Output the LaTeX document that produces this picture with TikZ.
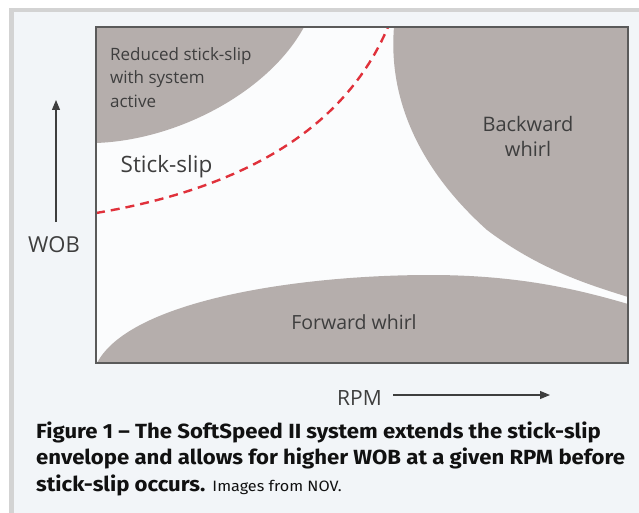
\documentclass[tikz,border=0pt]{standalone}
\usepackage{fontspec}
\setmainfont{Open Sans}
\newfontfamily\capfont{Fira Sans}
\usetikzlibrary{arrows.meta}
\definecolor{region}{HTML}{B5AEAC}
\definecolor{framec}{HTML}{D3D3D3}
\definecolor{bgc}{HTML}{F2F5F8}
\definecolor{plotbg}{HTML}{FBFCFD}
\definecolor{borderc}{HTML}{5A5A5A}
\definecolor{labelc}{HTML}{3E3E3E}
\definecolor{dashc}{HTML}{E0313B}
\definecolor{capc}{HTML}{111111}
\tikzset{
  regionfill/.style={fill=region},
  plotframe/.style={draw=borderc, line width=1.5pt},
  lbl/.style={text=labelc, inner sep=0pt, align=center},
  axisarrow/.style={draw=labelc, line width=1.1pt, -{Triangle[length=10pt,width=8pt]}},
  envelope/.style={draw=dashc, line width=2.4pt, dash pattern=on 9pt off 6pt},
  captext/.style={text=capc, inner sep=0pt, anchor=base west, font=\capfont\bfseries\fontsize{20.5}{24}\selectfont}
}
\newcommand{\capline}[1]{\scalebox{1.08}[1]{#1}}
\begin{document}
\begin{tikzpicture}[x=1pt,y=-1pt]
\useasboundingbox (0,0) rectangle (639,513);
\fill[white] (0,0) rectangle (639,513);
\fill[bgc] (14,12) rectangle (639,513);
\fill[framec] (9,8) rectangle (639,12);
\fill[framec] (9,8) rectangle (14,513);
\fill[plotbg] (96,27) rectangle (628,363);
% reduced stick-slip region
\fill[regionfill] (96,27) -- (304,27) .. controls (270,90) and (180,140) .. (96,143) -- cycle;
% backward whirl region
\fill[regionfill] (394,27) .. controls (388,100) and (420,170) .. (487,230)
   .. controls (540,270) and (590,285) .. (628,297) -- (628,27) -- cycle;
% forward whirl region
\fill[regionfill] (97,363) .. controls (130,300) and (300,275) .. (430,275)
   .. controls (520,275) and (580,290) .. (628,304) -- (628,363) -- cycle;
% envelope
\coordinate (e0) at (96,213);
\coordinate (e1) at (388,27);
\draw[envelope] (e0) .. controls (245,188) and (345,128) .. (e1);
\draw[plotframe] (96,27) rectangle (628,363);
% labels
\node[lbl, anchor=north west, align=left, font=\fontsize{17}{23.5}\selectfont] (reduced) at (110,47) {Reduced stick-slip\\with system\\active};
\node[lbl, font=\fontsize{22.5}{26}\selectfont] (stick) at (166.5,167) {Stick-slip};
\node[lbl, font=\fontsize{20}{25}\selectfont] (backward) at (528,136) {Backward\\whirl};
\node[lbl, font=\fontsize{19.5}{23}\selectfont] (forward) at (354,322) {Forward whirl};
\node[lbl, font=\fontsize{22}{25}\selectfont] (wob) at (54,245) {WOB};
\node[lbl, anchor=west, font=\fontsize{21}{24}\selectfont] (rpm) at (337,398) {RPM};
% axis arrows
\coordinate (wobtail) at (56,222);
\coordinate (wobhead) at (56,100);
\draw[axisarrow] (wobtail) -- (wobhead);
\coordinate (rpmtail) at (393,395);
\coordinate (rpmhead) at (550,395);
\draw[axisarrow] (rpmtail) -- (rpmhead);
% caption
\node[captext] (cap1) at (36,438) {\capline{Figure 1 – The SoftSpeed II system extends the stick-slip}};
\node[captext] (cap2) at (36,464) {\capline{envelope and allows for higher WOB at a given RPM before}};
\node[captext] (cap3) at (36,491) {\capline{stick-slip occurs. {\mdseries\fontsize{15}{17}\selectfont Images from NOV.}}};
\end{tikzpicture}
\end{document}
